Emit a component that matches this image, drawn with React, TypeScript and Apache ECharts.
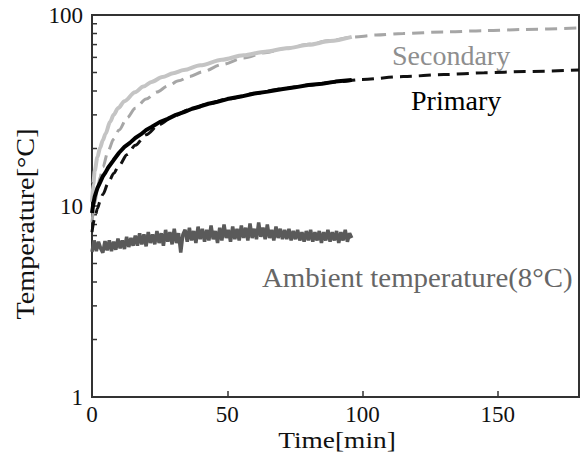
import React, { useEffect, useRef } from "react";
import * as echarts from "echarts";

// ---- data ----
const secMeasTime = [0, 0.5, 1, 2, 3, 4, 5, 6.7, 8, 9.7, 12, 15.9, 19, 22, 26, 30, 34, 40, 48, 56, 64, 72, 80, 88, 96];
const secMeasVal = [10.5, 13, 15.3, 18, 20.2, 22.1, 23.9, 27.6, 30, 32.6, 35.4, 39.4, 42.2, 44.6, 47.3, 49.5, 51.5, 54.5, 58.3, 61.5, 64.3, 66.9, 69.8, 73, 76.8];

const secSimTime = [0, 1, 2, 3, 4, 6, 8, 10, 13, 16, 20, 24, 28, 32, 36, 41, 48, 56, 64, 72, 80, 88, 96, 105, 115, 130, 145, 160, 180];
const secSimVal = [8.2, 10.3, 12.2, 14.2, 16, 19.5, 22.4, 25, 29, 32.5, 36.3, 39.5, 42.5, 45.2, 47.7, 50.5, 55, 59.5, 63.5, 67, 70.3, 73.5, 76.5, 78.5, 80, 81.5, 82.8, 84, 85.5];

const priMeasTime = [0, 0.5, 1, 2, 3, 4, 5, 6, 8, 10, 12, 14, 16, 18, 20, 22, 25, 28, 31, 34, 37, 40, 43, 46, 50, 55, 60, 65, 70, 75, 80, 85, 90, 96];
const priMeasVal = [9.2, 10.3, 11.2, 12.4, 13.3, 14.3, 15.0, 15.9, 17.4, 19.0, 20.4, 21.4, 22.7, 23.7, 25.0, 25.9, 27.5, 28.6, 30.0, 31.0, 32.3, 33.2, 34.3, 35.0, 36.3, 37.4, 38.8, 39.7, 40.9, 41.8, 43.0, 43.7, 44.8, 45.7];

const priSimTime = [0, 1, 2, 3, 4, 6, 8, 10, 13, 16, 20, 25, 30, 36, 42, 50, 60, 70, 80, 90, 100, 115, 130, 145, 160, 180];
const priSimVal = [7.3, 8.6, 9.7, 10.6, 11.5, 13.2, 14.8, 16.3, 18.6, 20.8, 23.6, 26.8, 29.5, 32, 34, 36.3, 38.8, 41, 42.9, 44.6, 46, 47.6, 48.8, 49.8, 50.6, 51.5];

const ambientStep = 0.8; // sampling interval [min]
const ambientVal = [
  5.75, 6.6, 5.8, 6.5, 6.0, 5.7, 6.55, 5.85, 6.6, 5.8,
  6.5, 5.9, 6.75, 6.0, 6.6, 5.95, 6.9, 6.1, 6.8, 6.2,
  7.0, 6.2, 7.2, 6.3, 7.1, 6.15, 7.3, 6.4, 7.1, 6.3,
  7.4, 6.4, 7.2, 6.2, 7.5, 6.5, 7.3, 6.3, 7.6, 6.4,
  7.2, 5.7, 7.1, 7.5, 6.5, 7.7, 6.6, 7.4, 6.4, 7.8,
  6.7, 7.6, 6.5, 7.5, 6.6, 7.9, 6.7, 7.4, 6.4, 7.7,
  6.6, 8.0, 6.8, 7.5, 6.5, 7.8, 6.7, 7.6, 6.6, 7.9,
  6.8, 7.7, 6.6, 8.1, 6.8, 7.6, 6.7, 8.2, 6.9, 7.7,
  6.7, 8.0, 6.8, 7.5, 6.6, 7.8, 6.8, 7.6, 6.7, 7.5,
  6.7, 7.6, 6.6, 7.4, 6.7, 7.5, 6.6, 7.3, 6.5, 7.4,
  6.6, 7.5, 6.5, 7.3, 6.6, 7.4, 6.4, 7.3, 6.6, 7.5,
  6.5, 7.3, 6.6, 7.4, 6.4, 7.3, 6.6, 7.5, 6.5, 7.2, 6.8,
];

const xTicks = [0, 50, 100, 150];
const yMinorTicks = [2, 3, 4, 5, 6, 7, 8, 9, 20, 30, 40, 50, 60, 70, 80, 90];

const FONT = "Liberation Serif";

const zip = (t: number[], v: number[]) => t.map((x, i) => [x, v[i]]);

export default function App() {
  const ref = useRef<HTMLDivElement>(null);
  useEffect(() => {
    document.body.style.margin = "0";
    const chart = echarts.init(ref.current!, null, { renderer: "svg" });
    const ambientData = ambientVal.map((v, i) => [i * ambientStep, v]);
    const txt = (text: string, size: number, fill: string, align: string) => ({
      text,
      fill,
      fontFamily: FONT,
      fontSize: size,
      align,
      verticalAlign: "middle",
    });
    chart.setOption({
      animation: false,
      backgroundColor: "#ffffff",
      grid: {
        left: 92,
        right: 5,
        top: 15,
        bottom: 60,
        show: true,
        borderColor: "#333",
        borderWidth: 2,
      },
      xAxis: {
        type: "value",
        min: 0,
        max: 180,
        interval: 50,
        axisLine: { show: true, lineStyle: { color: "#333", width: 2 } },
        axisTick: { show: true, inside: true, length: 6, lineStyle: { color: "#333", width: 1.5 } },
        splitLine: { show: false },
        axisLabel: {
          margin: 6,
          color: "#111",
          fontFamily: FONT,
          fontSize: 23,
          formatter: (v: number) => (xTicks.includes(v) ? String(v) : ""),
        },
      },
      yAxis: {
        type: "log",
        logBase: 10,
        min: 1,
        max: 100,
        axisLine: { show: true, lineStyle: { color: "#333", width: 2 } },
        axisTick: { show: true, inside: true, length: 7, lineStyle: { color: "#333", width: 1.5 } },
        splitLine: { show: false },
        minorTick: { show: false },
        axisLabel: {
          margin: 9,
          color: "#111",
          fontFamily: FONT,
          fontSize: 23,
        },
      },
      series: [
        {
          type: "custom",
          silent: true,
          clip: false,
          data: yMinorTicks.map((v) => [0, v]),
          renderItem: (_p: any, api: any) => {
            const pt = api.coord([api.value(0), api.value(1)]);
            return {
              type: "line",
              shape: { x1: pt[0], y1: pt[1], x2: pt[0] + 5, y2: pt[1] },
              style: { stroke: "#333", lineWidth: 1.5 },
            };
          },
          z: 1,
        },
        {
          name: "Ambient",
          type: "line",
          data: ambientData,
          showSymbol: false,
          lineStyle: { color: "#5a5a5a", width: 3.5 },
          z: 2,
        },
        {
          name: "Secondary sim",
          type: "line",
          data: zip(secSimTime, secSimVal),
          smooth: 0.3,
          smoothMonotone: "x",
          showSymbol: false,
          lineStyle: { color: "#a6a6a6", width: 3, type: [12, 7] },
          z: 3,
        },
        {
          name: "Secondary meas",
          type: "line",
          data: zip(secMeasTime, secMeasVal),
          smooth: 0.3,
          smoothMonotone: "x",
          showSymbol: false,
          lineStyle: { color: "#c4c4c4", width: 4 },
          z: 4,
        },
        {
          name: "Primary sim",
          type: "line",
          data: zip(priSimTime, priSimVal),
          smooth: 0.3,
          smoothMonotone: "x",
          showSymbol: false,
          lineStyle: { color: "#111", width: 3, type: [12, 7] },
          z: 5,
        },
        {
          name: "Primary meas",
          type: "line",
          data: zip(priMeasTime, priMeasVal),
          showSymbol: false,
          lineStyle: { color: "#000", width: 4 },
          z: 6,
        },
      ],
      graphic: [
        { type: "text", x: 392, y: 55, style: txt("Secondary", 28, "#8e8e8e", "left") },
        { type: "text", x: 411, y: 100, style: txt("Primary", 28, "#000", "left") },
        { type: "text", x: 262, y: 278, scaleX: 1.07, style: txt("Ambient temperature(8°C)", 27, "#666", "left") },
        { type: "text", x: 337, y: 440, scaleX: 1.14, style: txt("Time[min]", 24, "#111", "center") },
        {
          type: "text",
          x: 26,
          y: 224,
          rotation: Math.PI / 2,
          scaleX: 1.13,
          style: txt("Temperature[°C]", 25, "#111", "center"),
        },
      ],
    });
    return () => chart.dispose();
  }, []);
  return <div ref={ref} style={{ width: 584, height: 457 }} />;
}
